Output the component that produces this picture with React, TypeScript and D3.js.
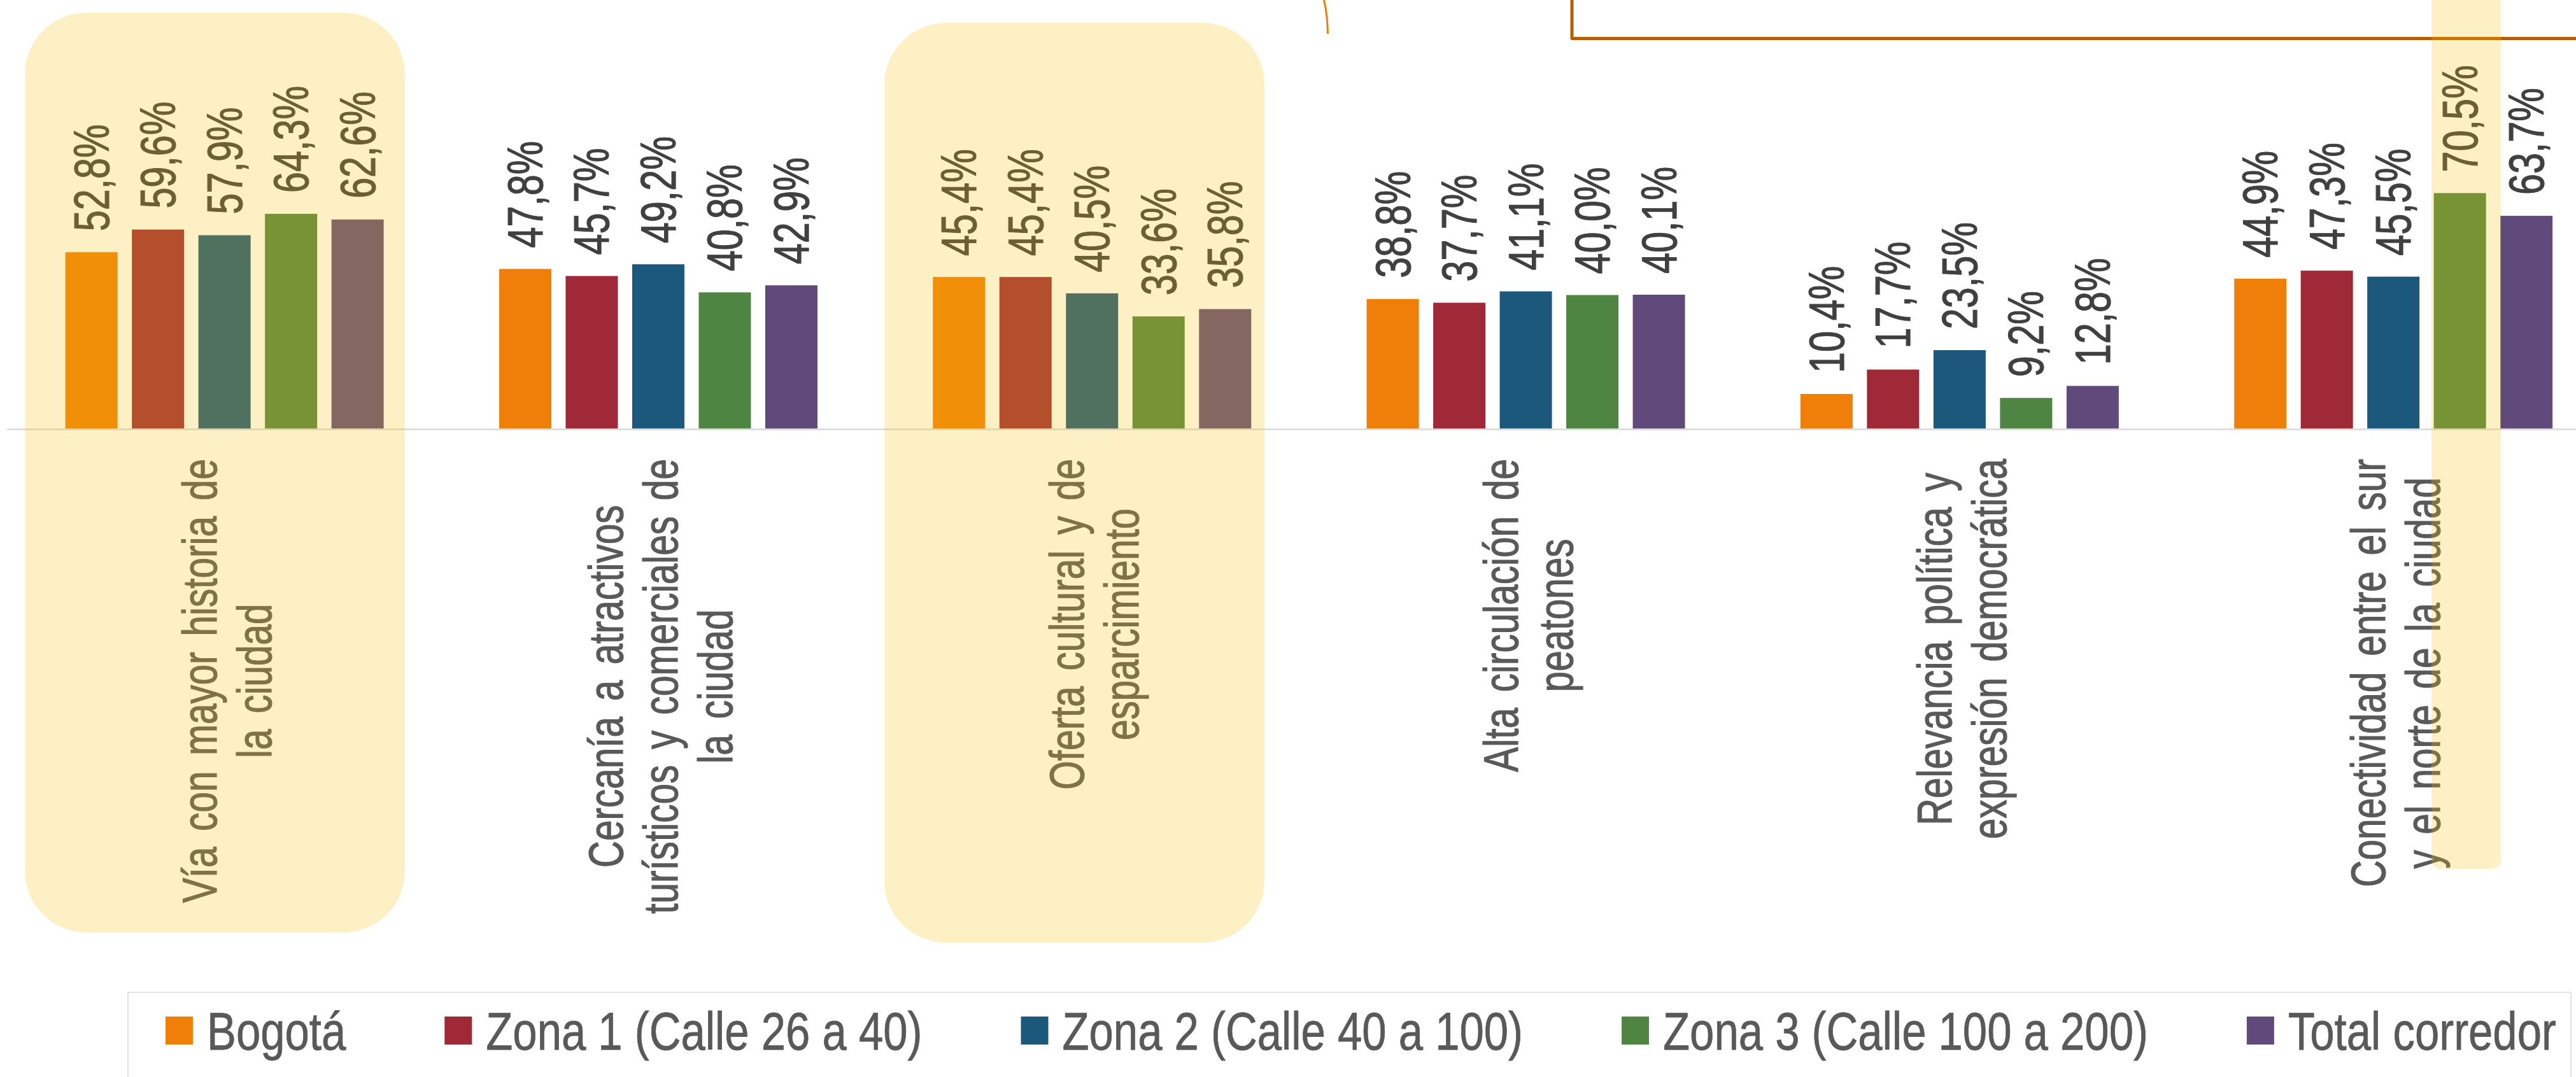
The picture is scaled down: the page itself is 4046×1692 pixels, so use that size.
import React, { useEffect, useRef } from "react";
import * as d3 from "d3";

// ---- data ----
const categories = [
  "Vía con mayor historia de la ciudad",
  "Cercanía a atractivos turísticos y comerciales de la ciudad",
  "Oferta cultural y de esparcimiento",
  "Alta circulación de peatones",
  "Relevancia política y expresión democrática",
  "Conectividad entre el sur y el norte de la ciudad",
];
const categoryLines = [
  ["Vía con mayor historia de", "la ciudad"],
  ["Cercanía a atractivos", "turísticos y comerciales de", "la ciudad"],
  ["Oferta cultural y de", "esparcimiento"],
  ["Alta circulación de", "peatones"],
  ["Relevancia política y", "expresión democrática"],
  ["Conectividad entre el sur", "y el norte de la ciudad"],
];
const seriesNames = [
  "Bogotá",
  "Zona 1 (Calle 26 a 40)",
  "Zona 2 (Calle 40 a 100)",
  "Zona 3 (Calle 100 a 200)",
  "Total corredor",
];
const seriesColors = ["#F07F09", "#9F2936", "#1B587C", "#4E8542", "#604A7B"];
const bogota = [52.8, 47.8, 45.4, 38.8, 10.4, 44.9];
const zona1 = [59.6, 45.7, 45.4, 37.7, 17.7, 47.3];
const zona2 = [57.9, 49.2, 40.5, 41.1, 23.5, 45.5];
const zona3 = [64.3, 40.8, 33.6, 40.0, 9.2, 70.5];
const totalCorredor = [62.6, 42.9, 35.8, 40.1, 12.8, 63.7];
const seriesValues = [bogota, zona1, zona2, zona3, totalCorredor];

const W = 4046;
const H = 1692;
const FONT = "'Liberation Sans', Arial, Helvetica, sans-serif";

export default function App() {
  const ref = useRef<SVGSVGElement>(null);

  useEffect(() => {
    document.body.style.margin = "0";
    const svg = d3.select(ref.current as SVGSVGElement);
    svg.selectAll("*").remove();

    const x0 = d3.scaleBand<string>().domain(categories).range([12, 12 + 6 * 681.3]);
    const x1 = d3
      .scaleBand<string>()
      .domain(seriesNames)
      .range([0, x0.bandwidth()])
      .paddingInner(0.2153)
      .paddingOuter(0.8675);
    const y = d3.scaleLinear().domain([0, 100]).range([673.5, 148.5]);
    const fmt = (v: number) => d3.format(".1f")(v).replace(".", ",") + "%";

    const data = categories.map((c, i) => ({
      c,
      i,
      bars: seriesNames.map((s, j) => ({ s, j, v: seriesValues[j][i] })),
    }));

    // bars
    const groups = svg
      .append("g")
      .selectAll("g")
      .data(data)
      .join("g")
      .attr("transform", (d) => `translate(${x0(d.c)},0)`);

    groups
      .selectAll("rect")
      .data((d) => d.bars)
      .join("rect")
      .attr("x", (d) => x1(d.s) as number)
      .attr("y", (d) => y(d.v))
      .attr("width", x1.bandwidth())
      .attr("height", (d) => y(0) - y(d.v))
      .attr("fill", (d) => seriesColors[d.j]);

    // axis line
    svg
      .append("line")
      .attr("x1", 11)
      .attr("x2", W)
      .attr("y1", y(0) + 1)
      .attr("y2", y(0) + 1)
      .attr("stroke", "#D9D9D9")
      .attr("stroke-width", 2.5);

    // value labels
    groups
      .selectAll("g.val")
      .data((d) => d.bars)
      .join("g")
      .attr("class", "val")
      .attr(
        "transform",
        (d) =>
          `translate(${(x1(d.s) as number) + x1.bandwidth() / 2},${y(d.v) - 33}) rotate(-90) scale(0.77,1)`
      )
      .append("text")
      .attr("y", 27)
      .attr("font-family", FONT)
      .attr("font-size", 77)
      .attr("fill", "#404040")
      .attr("stroke", "#404040")
      .attr("stroke-width", 1.2)
      .text((d) => fmt(d.v));

    // category labels
    const labelTop = 721;
    const lineGap = 86;
    const shift = 30;
    const sc = 0.77;
    categories.forEach((c, i) => {
      const cx = (x0(c) as number) + x0.bandwidth() / 2;
      const lines = categoryLines[i];
      const g = svg.append("g");
      const texts = lines.map((t, k) =>
        g
          .append("text")
          .attr("text-anchor", "middle")
          .attr("font-family", FONT)
          .attr("font-size", 76)
          .attr("fill", "#595959")
          .attr("stroke", "#595959")
          .attr("stroke-width", 1.2)
          .style("word-spacing", "11px")
          .attr("y", shift + (k - (lines.length - 1) / 2) * lineGap)
          .text(t)
      );
      const maxW =
        (d3.max(texts, (t) => (t.node() as SVGTextElement).getComputedTextLength()) || 0) * sc;
      g.attr("transform", `translate(${cx},${labelTop + maxW / 2}) rotate(-90) scale(${sc},1)`);
    });

    // legend
    svg
      .append("rect")
      .attr("x", 201)
      .attr("y", 1559)
      .attr("width", 3837)
      .attr("height", 300)
      .attr("fill", "none")
      .attr("stroke", "#D9D9D9")
      .attr("stroke-width", 1.5);
    let lx = 260;
    seriesNames.forEach((s, j) => {
      svg
        .append("rect")
        .attr("x", lx)
        .attr("y", 1597)
        .attr("width", 43)
        .attr("height", 44)
        .attr("fill", seriesColors[j]);
      const tg = svg.append("g").attr("transform", `translate(${lx + 65},1649) scale(0.82,1)`);
      const t = tg
        .append("text")
        .attr("font-family", FONT)
        .attr("font-size", 84)
        .attr("fill", "#595959")
        .attr("stroke", "#595959")
        .attr("stroke-width", 0.8)
        .text(s);
      const w = (t.node() as SVGTextElement).getComputedTextLength() * 0.82;
      lx = lx + 65 + w + 155;
    });

    // decorations at top
    svg
      .append("path")
      .attr("d", "M2079,-2 Q2085,22 2085.5,53")
      .attr("fill", "none")
      .attr("stroke", "#E8800A")
      .attr("stroke-width", 3);
    svg
      .append("path")
      .attr("d", "M2469,-10 L2469,60.5 L4060,60.5")
      .attr("fill", "none")
      .attr("stroke", "#B45F06")
      .attr("stroke-width", 5)
      .attr("stroke-linejoin", "round");

    // highlight overlays
    const hl = svg.append("g").attr("fill", "#F7C20E").attr("fill-opacity", 0.245);
    hl.append("rect")
      .attr("x", (x0(categories[0]) as number) + 27)
      .attr("y", 20)
      .attr("width", 597)
      .attr("height", 1445)
      .attr("rx", 97);
    hl.append("rect")
      .attr("x", (x0(categories[2]) as number) + 14.4)
      .attr("y", 36)
      .attr("width", 597)
      .attr("height", 1445)
      .attr("rx", 97);
    hl.append("rect")
      .attr("x", (x0(categories[5]) as number) + (x1(seriesNames[3]) as number) - 3.7)
      .attr("y", -40)
      .attr("width", 109.5)
      .attr("height", 1405)
      .attr("rx", 14);
  }, []);

  return (
    <svg
      ref={ref}
      width={W}
      height={H}
      viewBox={`0 0 ${W} ${H}`}
      style={{ position: "absolute", left: 0, top: 0, background: "#FFFFFF", display: "block" }}
    />
  );
}
